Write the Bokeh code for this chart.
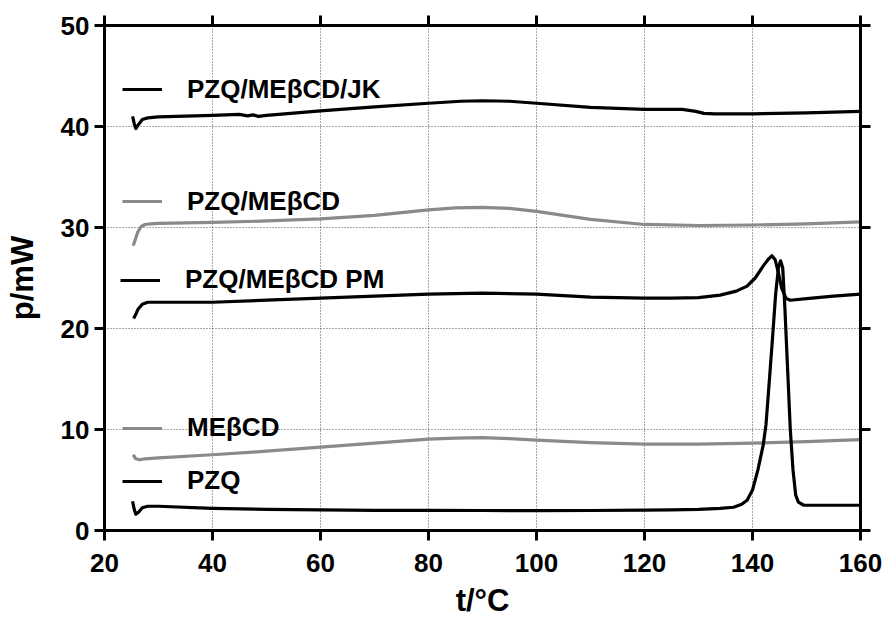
from bokeh.plotting import figure
from bokeh.models import Range1d, LinearAxis, FixedTicker, Legend, LegendItem
from bokeh.embed import file_html
from bokeh.resources import INLINE

# ---------------- data ----------------
x_ticks = [20, 40, 60, 80, 100, 120, 140, 160]
y_ticks = [0, 10, 20, 30, 40, 50]
x_title = "t/°C"
y_title = "p/mW"

pzq_t = [25.2, 25.5, 25.8, 26.3, 27.0, 28.0, 30, 40, 50, 60, 70, 80, 90, 100, 110, 120,
         125, 130, 134, 136.5, 138, 139, 140, 141, 142, 142.5, 143, 143.7, 144.3, 144.8,
         145.2, 145.6, 146.0, 146.5, 147.0, 147.5, 148.0, 148.5, 149.5, 152, 156, 160]
pzq_p = [2.9, 2.1, 1.6, 1.8, 2.25, 2.4, 2.4, 2.2, 2.1, 2.05, 2.0, 2.0, 1.98, 1.97, 1.98, 2.02,
         2.05, 2.1, 2.2, 2.3, 2.6, 3.0, 4.0, 6.0, 8.5, 10.5, 14.0, 19.0, 23.5, 26.0,
         26.7, 26.0, 22.0, 16.0, 10.0, 6.0, 3.5, 2.8, 2.5, 2.5, 2.5, 2.5]

mecd_t = [25.3, 25.8, 26.5, 27.5, 30, 40, 50, 60, 70, 80, 85, 90, 95, 100, 110, 120, 130,
          140, 150, 160]
mecd_p = [7.5, 7.1, 7.0, 7.1, 7.2, 7.5, 7.85, 8.25, 8.65, 9.05, 9.15, 9.2, 9.1, 8.95, 8.7,
          8.55, 8.55, 8.65, 8.8, 9.0]

pm_t = [25.4, 25.7, 26.2, 27.0, 28.0, 30, 40, 50, 60, 70, 80, 90, 100, 110, 120, 125, 130,
        134, 137, 139, 140.5, 142, 143, 143.6, 144.2, 144.8, 145.4, 146.2, 147.0, 150, 155,
        160]
pm_p = [21.0, 21.3, 21.9, 22.4, 22.6, 22.6, 22.6, 22.8, 23.0, 23.2, 23.4, 23.5, 23.4, 23.1,
        23.0, 23.0, 23.05, 23.3, 23.7, 24.2, 25.0, 26.2, 26.9, 27.2, 26.8, 25.5, 24.0, 23.0,
        22.8, 22.95, 23.2, 23.4]

pzqme_t = [25.3, 25.7, 26.2, 26.8, 27.5, 28.5, 30, 40, 50, 60, 70, 80, 85, 90, 95, 100,
           110, 120, 130, 140, 150, 160]
pzqme_p = [28.2, 28.8, 29.6, 30.1, 30.3, 30.35, 30.4, 30.5, 30.65, 30.85, 31.2, 31.75,
           31.95, 32.0, 31.9, 31.6, 30.8, 30.3, 30.2, 30.25, 30.35, 30.55]

jk_t = [25.2, 25.5, 25.8, 26.3, 27.0, 28, 30, 40, 45, 46.5, 47.5, 48.5, 50, 60, 70, 80, 86,
        90, 95, 100, 110, 120, 127, 129.5, 131, 133, 140, 150, 160]
jk_p = [41.0, 40.3, 39.8, 40.2, 40.7, 40.85, 40.95, 41.1, 41.2, 41.05, 41.15, 41.0, 41.1,
        41.55, 41.95, 42.3, 42.5, 42.55, 42.5, 42.3, 41.9, 41.7, 41.7, 41.5, 41.3, 41.25,
        41.25, 41.35, 41.5]

labels = ["PZQ/MEβCD/JK", "PZQ/MEβCD", "PZQ/MEβCD PM", "MEβCD", "PZQ"]

BLACK = "#000000"
GRAY = "#8a8a8a"
FONT = "Liberation Sans"

p = figure(width=885, height=620, output_backend="svg", toolbar_location=None,
           x_range=Range1d(20, 160), y_range=Range1d(0, 50),
           min_border_left=104, min_border_right=25, min_border_top=25, min_border_bottom=90)
p.outline_line_color = None
p.background_fill_color = "white"

bottom_ax = p.below[0]
left_ax = p.left[0]
right_ax = LinearAxis()
top_ax = LinearAxis()
p.add_layout(right_ax, "right")
p.add_layout(top_ax, "above")


def style(ax, ticks, show_labels=True):
    ax.ticker = FixedTicker(ticks=ticks, minor_ticks=[])
    ax.axis_line_width = 3
    ax.axis_line_color = "black"
    ax.axis_line_cap = "square"
    ax.major_tick_line_width = 3
    ax.major_tick_line_color = "black"
    ax.major_tick_out = 10
    ax.major_tick_in = 0
    ax.minor_tick_line_color = None
    ax.major_label_text_font = FONT
    ax.major_label_text_font_style = "bold"
    ax.major_label_text_color = "black"
    ax.major_label_text_font_size = "26px"
    ax.major_label_standoff = 5
    ax.axis_label_text_font = FONT
    ax.axis_label_text_font_style = "bold"
    ax.axis_label_text_font_size = "31px"
    ax.axis_label_text_color = "black"
    if not show_labels:
        ax.major_label_text_alpha = 0
        ax.major_label_text_font_size = "1px"
        ax.major_label_standoff = 0


style(bottom_ax, x_ticks)
style(left_ax, y_ticks)
style(right_ax, y_ticks, False)
style(top_ax, x_ticks, False)

bottom_ax.major_label_standoff = 13
bottom_ax.axis_label = x_title
bottom_ax.axis_label_standoff = 8
left_ax.axis_label = y_title
left_ax.axis_label_standoff = 18

for g, ticks in ((p.xgrid[0], x_ticks), (p.ygrid[0], y_ticks)):
    g.ticker = FixedTicker(ticks=ticks, minor_ticks=[])
    g.grid_line_color = "#505050"
    g.grid_line_dash = "1 2"
    g.grid_line_width = 1

series = [
    (jk_t, jk_p, BLACK, labels[0], 18.0, 90.7),
    (pzqme_t, pzqme_p, GRAY, labels[1], 18.0, 202.7),
    (pm_t, pm_p, BLACK, labels[2], 16.0, 281.0),
    (mecd_t, mecd_p, GRAY, labels[3], 18.0, 429.3),
    (pzq_t, pzq_p, BLACK, labels[4], 18.0, 482.0),
]

FRAME_BOTTOM_PAGE = 530
ITEM_H = 28

for xs, ys, col, lab, lx, ly_page in series:
    r = p.line(xs, ys, line_color=col, line_width=3.2, line_join="round")
    leg = Legend(items=[LegendItem(label=lab, renderers=[r])],
                 location=(lx, FRAME_BOTTOM_PAGE - ly_page - ITEM_H / 2))
    leg.glyph_width = 40
    leg.glyph_height = 20
    leg.label_standoff = 25
    leg.padding = 0
    leg.margin = 0
    leg.spacing = 0
    leg.border_line_alpha = 0
    leg.background_fill_alpha = 0
    leg.label_text_font = FONT
    leg.label_text_font_style = "bold"
    leg.label_text_font_size = "26px"
    leg.label_text_color = "black"
    leg.label_height = ITEM_H
    p.add_layout(leg)

open("out.html", "w").write(file_html(p, INLINE))
